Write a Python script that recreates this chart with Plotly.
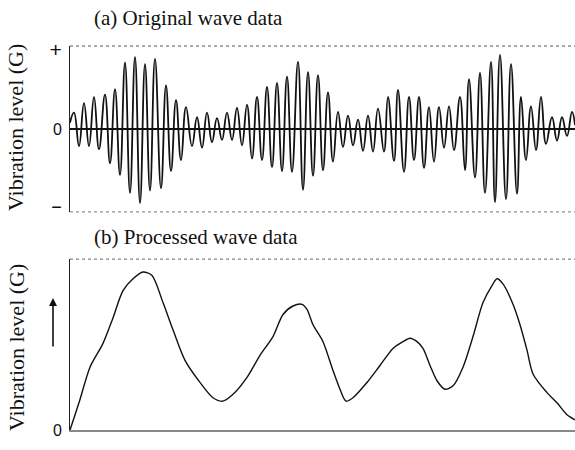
import plotly.graph_objects as go

# ---- (a) Original wave data: extrema ----
wave_t = [0, 4, 9, 14, 19, 24, 29, 35, 40, 45, 50, 55, 60, 65, 70, 75, 80, 85, 91, 96,
          101, 106, 111, 116, 122, 127, 132, 137, 142, 147, 152, 157, 162, 167, 172, 177,
          182, 187, 192, 197, 202, 207, 212, 217, 222, 228, 233, 238, 243, 248, 253, 258,
          263, 268, 273, 278, 283, 288, 293, 298, 303, 308, 314, 318, 324, 328, 334, 339,
          344, 349, 354, 359, 364, 369, 374, 379, 384, 390, 395, 399, 405, 410, 415, 421,
          425, 430, 436, 441, 447, 451, 456, 461, 466, 471, 476, 482, 487, 492, 497, 502, 505]
wave_v = [0.08, 0.21, -0.22, 0.33, -0.22, 0.41, -0.26, 0.44, -0.44, 0.51, -0.59, 0.85,
          -0.82, 0.92, -0.95, 0.83, -0.79, 0.90, -0.76, 0.56, -0.54, 0.37, -0.40, 0.28,
          -0.22, 0.15, -0.24, 0.21, -0.17, 0.14, -0.14, 0.21, -0.14, 0.27, -0.21, 0.31,
          -0.38, 0.41, -0.40, 0.54, -0.49, 0.59, -0.54, 0.67, -0.55, 0.86, -0.78, 0.73,
          -0.60, 0.69, -0.53, 0.47, -0.42, 0.22, -0.23, 0.17, -0.21, 0.12, -0.28, 0.17,
          -0.29, 0.26, -0.29, 0.41, -0.41, 0.50, -0.55, 0.41, -0.40, 0.41, -0.50, 0.28,
          -0.42, 0.28, -0.24, 0.29, -0.27, 0.41, -0.53, 0.64, -0.62, 0.72, -0.82, 0.86,
          -0.94, 0.95, -0.90, 0.83, -0.83, 0.41, -0.40, 0.29, -0.27, 0.41, -0.19, 0.15,
          -0.15, 0.15, -0.09, 0.22, 0.05]

# ---- (b) Processed wave data: curve ----
proc_t = [0, 10, 20, 33, 43, 53, 63, 73, 82, 93, 103, 115, 130, 143, 153, 163, 177, 190,
          203, 213, 223, 232, 237, 243, 253, 263, 270, 276, 283, 297, 310, 323, 333, 340,
          347, 353, 360, 367, 375, 383, 393, 403, 413, 422, 427, 433, 443, 450, 457, 463,
          477, 487, 497, 505]
proc_v = [0.0, 0.18, 0.37, 0.51, 0.66, 0.82, 0.89, 0.93, 0.91, 0.75, 0.59, 0.41, 0.28,
          0.19, 0.17, 0.21, 0.31, 0.44, 0.55, 0.68, 0.73, 0.74, 0.71, 0.62, 0.52, 0.35,
          0.24, 0.17, 0.19, 0.28, 0.38, 0.48, 0.52, 0.54, 0.52, 0.48, 0.38, 0.29, 0.24,
          0.26, 0.37, 0.55, 0.75, 0.85, 0.89, 0.86, 0.74, 0.62, 0.47, 0.33, 0.22, 0.16,
          0.09, 0.06]

top_ticks = [-1, 0, 1]
top_tick_text = ['<span style="font-size:18px">\u2212</span>', "0",
                 '<span style="font-size:21px">+</span>']
bot_ticks = [0]
bot_tick_text = ["0"]

SERIF = "Liberation Serif, Times New Roman, serif"
SANS = "Liberation Sans, Arial, sans-serif"

fig = go.Figure()
fig.add_trace(go.Scatter(x=wave_t, y=wave_v, mode="lines",
                         line=dict(color="#111", width=1.8, shape="spline", smoothing=1.3),
                         xaxis="x", yaxis="y", showlegend=False, hoverinfo="skip"))
fig.add_trace(go.Scatter(x=proc_t, y=proc_v, mode="lines",
                         line=dict(color="#111", width=1.4, shape="spline", smoothing=0.8),
                         xaxis="x2", yaxis="y2", showlegend=False, hoverinfo="skip"))

fig.update_layout(
    width=575, height=450,
    margin=dict(l=70, r=0, t=46, b=20),
    paper_bgcolor="white", plot_bgcolor="white",
    xaxis=dict(domain=[0, 1], range=[0, 505], showticklabels=False, ticks="",
               showgrid=False, zeroline=False, showline=False, anchor="y"),
    yaxis=dict(domain=[0.568, 1.0], range=[-1.064, 1.064], tickvals=top_ticks,
               ticktext=top_tick_text, ticks="", showgrid=False,
               zeroline=True, zerolinecolor="#111", zerolinewidth=1.5,
               showline=True, linecolor="#222", linewidth=1, ticklabelstandoff=4,
               tickfont=dict(family=SANS, size=16, color="#111"), anchor="x"),
    xaxis2=dict(domain=[0, 1], range=[0, 505], showticklabels=False, ticks="",
                showgrid=False, zeroline=False, showline=True, linecolor="#888",
                linewidth=2, anchor="y2"),
    yaxis2=dict(domain=[0.0, 0.445], range=[0, 1.006], tickvals=bot_ticks,
                ticktext=bot_tick_text, ticks="", showgrid=False, zeroline=False,
                showline=True, linecolor="#222", linewidth=1, ticklabelstandoff=4,
                tickfont=dict(family=SANS, size=16, color="#111"), anchor="x2"),
    shapes=[
        dict(type="line", xref="x domain", yref="y domain", x0=0, x1=1, y0=1, y1=1,
             line=dict(color="#555", width=1, dash="dot")),
        dict(type="line", xref="x domain", yref="y domain", x0=0, x1=1, y0=0, y1=0,
             line=dict(color="#777", width=1, dash="dot")),
        dict(type="line", xref="x2 domain", yref="y2 domain", x0=0, x1=1, y0=1, y1=1,
             line=dict(color="#666", width=1, dash="dot")),
    ],
    annotations=[
        dict(text="(a) Original wave data", xref="paper", yref="paper",
             x=(92 - 70) / 505, y=(430 - 18) / 384, xanchor="left", yanchor="middle",
             showarrow=False, font=dict(family=SERIF, size=21, color="#111")),
        dict(text="(b) Processed wave data", xref="paper", yref="paper",
             x=(92 - 70) / 505, y=(430 - 237) / 384, xanchor="left", yanchor="middle",
             showarrow=False, font=dict(family=SERIF, size=21, color="#111")),
        dict(text="Vibration level (G)", xref="paper", yref="paper",
             x=(16 - 70) / 505, y=(430 - 128) / 384, xanchor="center", yanchor="middle",
             textangle=-90, showarrow=False, font=dict(family=SERIF, size=22, color="#111")),
        dict(text="Vibration level (G)", xref="paper", yref="paper",
             x=(16 - 70) / 505, y=(430 - 348) / 384, xanchor="center", yanchor="middle",
             textangle=-90, showarrow=False, font=dict(family=SERIF, size=22, color="#111")),
        dict(text="", xref="paper", yref="paper",
             x=(53 - 70) / 505, y=(430 - 298) / 384, ax=0, ay=50,
             showarrow=True, arrowhead=2, arrowsize=1, arrowwidth=1.6, arrowcolor="#111"),
    ],
)

fig.write_html("out.html", config={"displayModeBar": False},
               post_script="document.body.style.margin='0';document.body.style.padding='0';")
